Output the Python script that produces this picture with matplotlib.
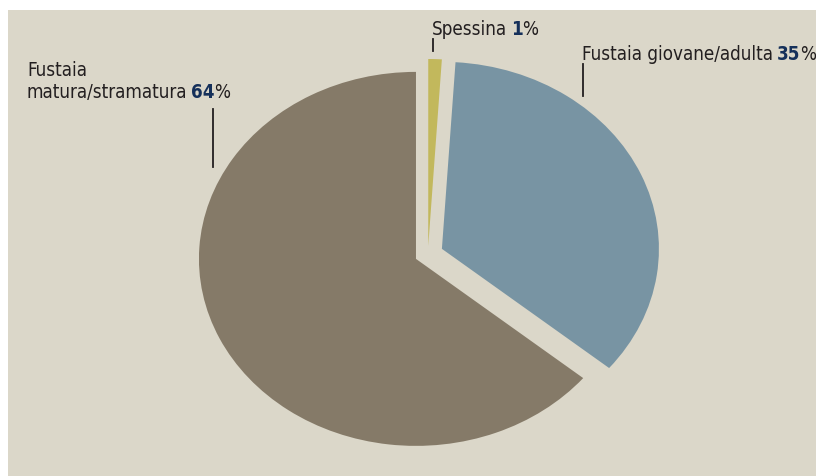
import matplotlib
matplotlib.use("Agg")
import matplotlib.pyplot as plt
from matplotlib.lines import Line2D

# ── Data: stand development classes ──────────────────────────────────────────
labels = ["Fustaia\nmatura/stramatura", "Fustaia giovane/adulta", "Spessina"]
shares = [64, 35, 1]
colors = ["#857a68", "#7894a3", "#c2b85c"]
explode = [0.061, 0.07, 0.043]

BG = "#dbd7c9"
INK = "#231f20"
NAVY = "#15305a"
FS = 13.5

plt.rcParams["font.family"] = ["DejaVu Sans"]
plt.rcParams["font.stretch"] = "condensed"

W, H = 816, 477
fig = plt.figure(figsize=(W / 100, H / 100), dpi=100, facecolor="white")
ax = fig.add_axes([8 / W, 0, 808 / W, 466 / H])

ax.pie(shares, colors=colors, explode=explode, startangle=90,
       counterclock=True, radius=1, frame=True,
       wedgeprops=dict(linewidth=0))

# slightly flattened pie, filling the beige panel
ax.set_aspect("auto")
ax.set_xlim(-1.935, 1.788)
ax.set_ylim(-1.187, 1.305)
ax.set_facecolor(BG)
ax.set_xticks([])
ax.set_yticks([])
for s in ax.spines.values():
    s.set_visible(False)


def px(x, y):
    return x / W, 1 - y / H


def put_label(text, value, x, y):
    # y is the baseline of the last line of the label
    t = fig.text(*px(x, y), text, fontsize=FS, color=INK, ha="left",
                 va="baseline", linespacing=1.22, fontstretch="condensed")
    n = ax.annotate(f"{value}", xy=(1, 0), xycoords=t, xytext=(2.5, 0),
                    textcoords="offset points", fontsize=FS,
                    fontweight="bold", color=NAVY, ha="left", va="bottom",
                    fontstretch="condensed")
    ax.annotate("%", xy=(1, 0), xycoords=n, fontsize=FS, color=INK,
                ha="left", va="bottom", fontstretch="condensed")


def leader(x, y0, y1):
    (fx, fy0), (_, fy1) = px(x, y0), px(x, y1)
    fig.add_artist(Line2D([fx, fx], [fy0, fy1], transform=fig.transFigure,
                          color=INK, linewidth=1.3))


put_label(labels[0], shares[0], 27, 98)
put_label(labels[2], shares[2], 432, 35)
put_label(labels[1], shares[1], 582, 60)

leader(213, 110, 168)
leader(433, 40, 52)
leader(583, 65, 97)

fig.savefig("out.png", dpi=100, facecolor="white")
